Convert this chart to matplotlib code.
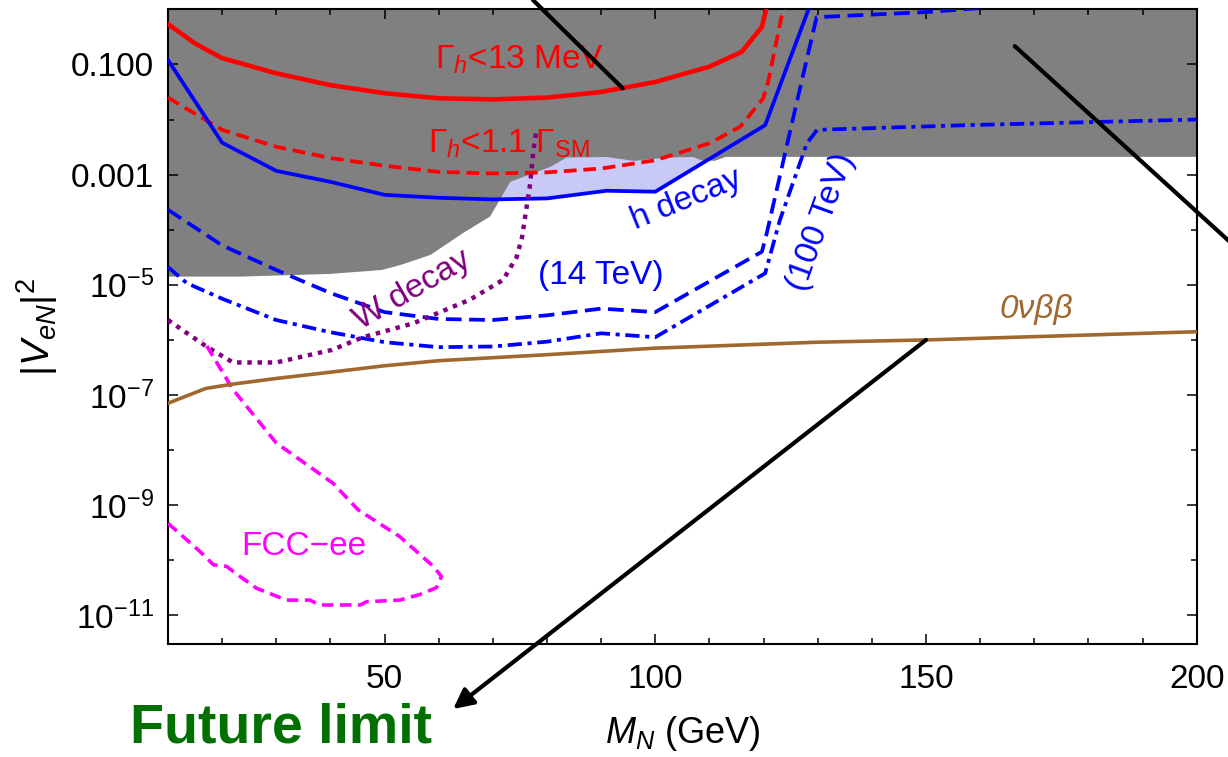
import matplotlib
matplotlib.use("Agg")
import matplotlib.pyplot as plt
import matplotlib.ticker as tick

plt.rcParams["font.family"] = ["Liberation Sans", "DejaVu Sans"]
plt.rcParams["mathtext.fontset"] = "custom"
plt.rcParams["mathtext.rm"] = "Liberation Sans"
plt.rcParams["mathtext.it"] = "Liberation Sans:italic"
plt.rcParams["mathtext.bf"] = "Liberation Sans:bold"

# --- curves (M_N in GeV, |V_eN|^2) ---
width13_x = [10, 15, 20, 30, 40, 50, 60, 70, 80, 90, 100, 110, 116, 119.7, 120.6]
width13_y = [0.54, 0.24, 0.13, 0.069, 0.042, 0.030, 0.0243, 0.0232, 0.025, 0.0316,
             0.048, 0.091, 0.17, 0.48, 1.12]

width11_x = [10, 20, 30, 40, 50, 60, 70, 80, 90, 100, 110, 115.7, 119.9, 120.8, 123.3, 124]
width11_y = [0.025, 6.5e-3, 3.2e-3, 2.0e-3, 1.45e-3, 1.12e-3, 1.05e-3, 1.1e-3, 1.29e-3,
             1.82e-3, 3.7e-3, 7.4e-3, 0.024, 0.046, 0.72, 1.12]

hdecay_x = [10, 20, 30, 40, 50, 60, 70, 80, 91, 100, 120.3, 128.5]
hdecay_y = [0.12, 3.8e-3, 1.17e-3, 7.4e-4, 4.3e-4, 3.8e-4, 3.55e-4, 3.7e-4, 5.1e-4,
            4.9e-4, 7.9e-3, 1.12]

lhc14_x = [10, 20, 30, 40, 50, 60, 70, 80, 90, 100, 119.7, 120.6, 125.4, 129.8, 150, 160]
lhc14_y = [2.3e-4, 5.2e-5, 1.86e-5, 7.1e-6, 3.2e-6, 2.4e-6, 2.3e-6, 2.8e-6, 3.7e-6,
           3.2e-6, 4.0e-5, 8.7e-5, 0.01, 0.72, 0.89, 1.05]

fcc100_x = [10, 13.5, 20, 30, 40, 50, 60, 70, 80, 90, 100, 120.3, 123, 128, 129.9, 157.5, 200]
fcc100_y = [2.1e-5, 1.07e-5, 5.6e-6, 2.3e-6, 1.38e-6, 9.1e-7, 7.4e-7, 7.6e-7, 9.3e-7,
            1.32e-6, 1.12e-6, 1.62e-5, 1.48e-4, 3.7e-3, 6.5e-3, 7.9e-3, 0.01]

wdecay_x = [10, 17.1, 22, 30, 40.3, 46, 55.3, 65.8, 71.9, 74.4, 75.4, 76.9, 77.5, 78.1]
wdecay_y = [2.3e-6, 7.6e-7, 3.9e-7, 3.9e-7, 6.6e-7, 1.12e-6, 2.0e-6, 5.4e-6, 1.23e-5,
            3.2e-5, 7.4e-5, 6.9e-4, 2.8e-3, 6.9e-3]

fccee_x = [10, 15.9, 18.4, 20.8, 23.3, 26.4, 31.9, 36.2, 38.1, 45.5, 46.7, 52.8, 56.5,
           59.6, 60.5, 59, 52.8, 45.1, 40.5, 30, 22, 16.5]
fccee_y = [4.7e-10, 1.45e-10, 8.3e-11, 7.8e-11, 5.1e-11, 3.1e-11, 1.9e-11, 1.9e-11,
           1.55e-11, 1.55e-11, 1.78e-11, 1.9e-11, 2.4e-11, 3.2e-11, 5.1e-11, 7.8e-11,
           2.7e-10, 8.3e-10, 2.5e-9, 1.35e-8, 1.26e-7, 1.0e-6]

bb0v_x = [10, 17, 22, 30, 40, 50, 60, 80, 100, 130, 150, 200]
bb0v_y = [7.1e-8, 1.32e-7, 1.58e-7, 2.0e-7, 2.6e-7, 3.4e-7, 4.2e-7, 5.4e-7, 7.1e-7,
          9.1e-7, 1.0e-6, 1.41e-6]

# excluded region (lower edge), top is the frame
excl_x = [10, 23.3, 40, 49.5, 53, 58.5, 64.5, 69.5, 71.3, 73.2, 80.6, 83.6, 91, 96,
          102.1, 107, 108.5, 111, 113, 200]
excl_y = [1.41e-5, 1.41e-5, 1.58e-5, 1.86e-5, 2.3e-5, 3.5e-5, 8.7e-5, 1.74e-4, 3.5e-4,
          7.4e-4, 1.38e-3, 2.04e-3, 2.09e-3, 1.78e-3, 2.04e-3, 2.09e-3, 1.82e-3, 1.78e-3,
          2.1e-3, 2.1e-3]

# light blue band between the excluded region and the h decay line
band_x = [71.3, 80, 91, 100, 111, 111, 71.3]
band_y = [3.5e-4, 3.7e-4, 5.1e-4, 4.9e-4, 2.2e-3, 3e-3, 3e-3]

ytick_major = [1e-1, 1e-3, 1e-5, 1e-7, 1e-9, 1e-11]
ytick_labels = ["0.100", "0.001", r"$10^{-5}$", r"$10^{-7}$", r"$10^{-9}$", r"$10^{-11}$"]
ytick_minor = [1, 1e-2, 1e-4, 1e-6, 1e-8, 1e-10]
xtick_major = [50, 100, 150, 200]

fig = plt.figure(figsize=(12.28, 7.57), dpi=100)
ax = fig.add_axes([0.1368, 0.1489, 0.8377, 0.8388])
ax.set_yscale("log")
ax.set_xlim(10, 200)
ax.set_ylim(3e-12, 1)

top = ax.get_ylim()[1]
ax.fill(band_x, band_y, color="#c9c9f7", lw=0, zorder=1)
ax.fill(excl_x + [200, 10], excl_y + [top, top], color="#808080", lw=0, zorder=1.5)

ax.plot(width13_x, width13_y, color="#ff0000", lw=3.3, zorder=3)
ax.plot(width11_x, width11_y, color="#ff0000", lw=2.7, ls=(0, (3.4, 1.8)), zorder=3)
ax.plot(hdecay_x, hdecay_y, color="#0000ff", lw=2.7, zorder=3)
ax.plot(lhc14_x, lhc14_y, color="#0000ff", lw=2.7, ls=(0, (4.2, 2.0)), zorder=3)
ax.plot(fcc100_x, fcc100_y, color="#0000ff", lw=2.7, ls=(0, (3.8, 1.5, 1.1, 1.5)), zorder=3)
ax.plot(wdecay_x, wdecay_y, color="#800080", lw=3.2, ls=(0, (1, 1.3)), zorder=3)
ax.plot(fccee_x, fccee_y, color="#ff00ff", lw=2.6, ls=(0, (3.2, 1.8)), zorder=3)
ax.plot(bb0v_x, bb0v_y, color="#a0682f", lw=2.6, zorder=3)

fs = 24
ax.text(75.0, 0.0857, r"$\Gamma_h$<13 MeV", color="#ff0000", fontsize=fs,
        ha="center", va="baseline", zorder=4)
ax.text(73.0, 2.46e-3, r"$\Gamma_h$<1.1 $\Gamma_\mathrm{SM}$", color="#ff0000",
        fontsize=fs, ha="center", va="baseline", zorder=4)
ax.text(105.7, 3.5e-4, "h decay", color="#0000ff", fontsize=fs, rotation=22,
        ha="center", va="center", rotation_mode="anchor", zorder=4)
ax.text(90.0, 1.5e-5, "(14 TeV)", color="#0000ff", fontsize=fs,
        ha="center", va="center", zorder=4)
ax.text(130.6, 1.38e-4, "(100 TeV)", color="#0000ff", fontsize=fs, rotation=70,
        ha="center", va="center", rotation_mode="anchor", zorder=4)
ax.text(55.1, 8.1e-6, "W decay", color="#800080", fontsize=fs, rotation=30,
        ha="center", va="center", rotation_mode="anchor", zorder=4)
ax.text(170.3, 3.5e-6, "0νββ", color="#a0682f", fontsize=fs, style="italic",
        ha="center", va="center", zorder=4)
ax.text(35.1, 1.8e-10, "FCC−ee", color="#ff00ff", fontsize=fs,
        ha="center", va="center", zorder=4)

# pointer lines
line_kw = dict(arrowstyle="-", lw=3, color="k", shrinkA=0, shrinkB=0)
ax.annotate("", xy=(94.0, 0.0367), xycoords="data", xytext=(0.434, 1.0),
            textcoords="figure fraction", arrowprops=line_kw, zorder=5)
ax.annotate("", xy=(166.4, 0.215), xycoords="data", xytext=(1.01, 0.668),
            textcoords="figure fraction", arrowprops=line_kw, zorder=5)
ax.annotate("", xy=(0.369, 0.0634), xycoords="figure fraction", xytext=(150, 1.0e-6),
            textcoords="data",
            arrowprops=dict(arrowstyle="-|>", lw=3, color="k", shrinkA=0, shrinkB=0,
                            mutation_scale=30), zorder=5)
fig.text(0.229, 0.0198, "Future limit", color="#007000", fontsize=40,
         fontweight="bold", ha="center", va="baseline")

ax.xaxis.set_major_locator(tick.FixedLocator(xtick_major))
ax.xaxis.set_minor_locator(tick.MultipleLocator(10))
ax.yaxis.set_major_locator(tick.FixedLocator(ytick_major))
ax.yaxis.set_major_formatter(tick.FixedFormatter(ytick_labels))
ax.yaxis.set_minor_locator(tick.FixedLocator(ytick_minor))
ax.yaxis.set_minor_formatter(tick.NullFormatter())
ax.tick_params(which="both", direction="in", top=True, right=True, width=1.1)
ax.tick_params(which="major", length=7, labelsize=fs, pad=10)
ax.tick_params(which="minor", length=4)
ax.tick_params(axis="x", which="major", pad=14)
for s in ax.spines.values():
    s.set_linewidth(1.5)

ax.set_xlabel(r"$M_N$ (GeV)", fontsize=26, labelpad=14)
ax.set_ylabel(r"$|V_{eN}|^2$", fontsize=28, labelpad=8)

fig.savefig("out.png", dpi=100)
